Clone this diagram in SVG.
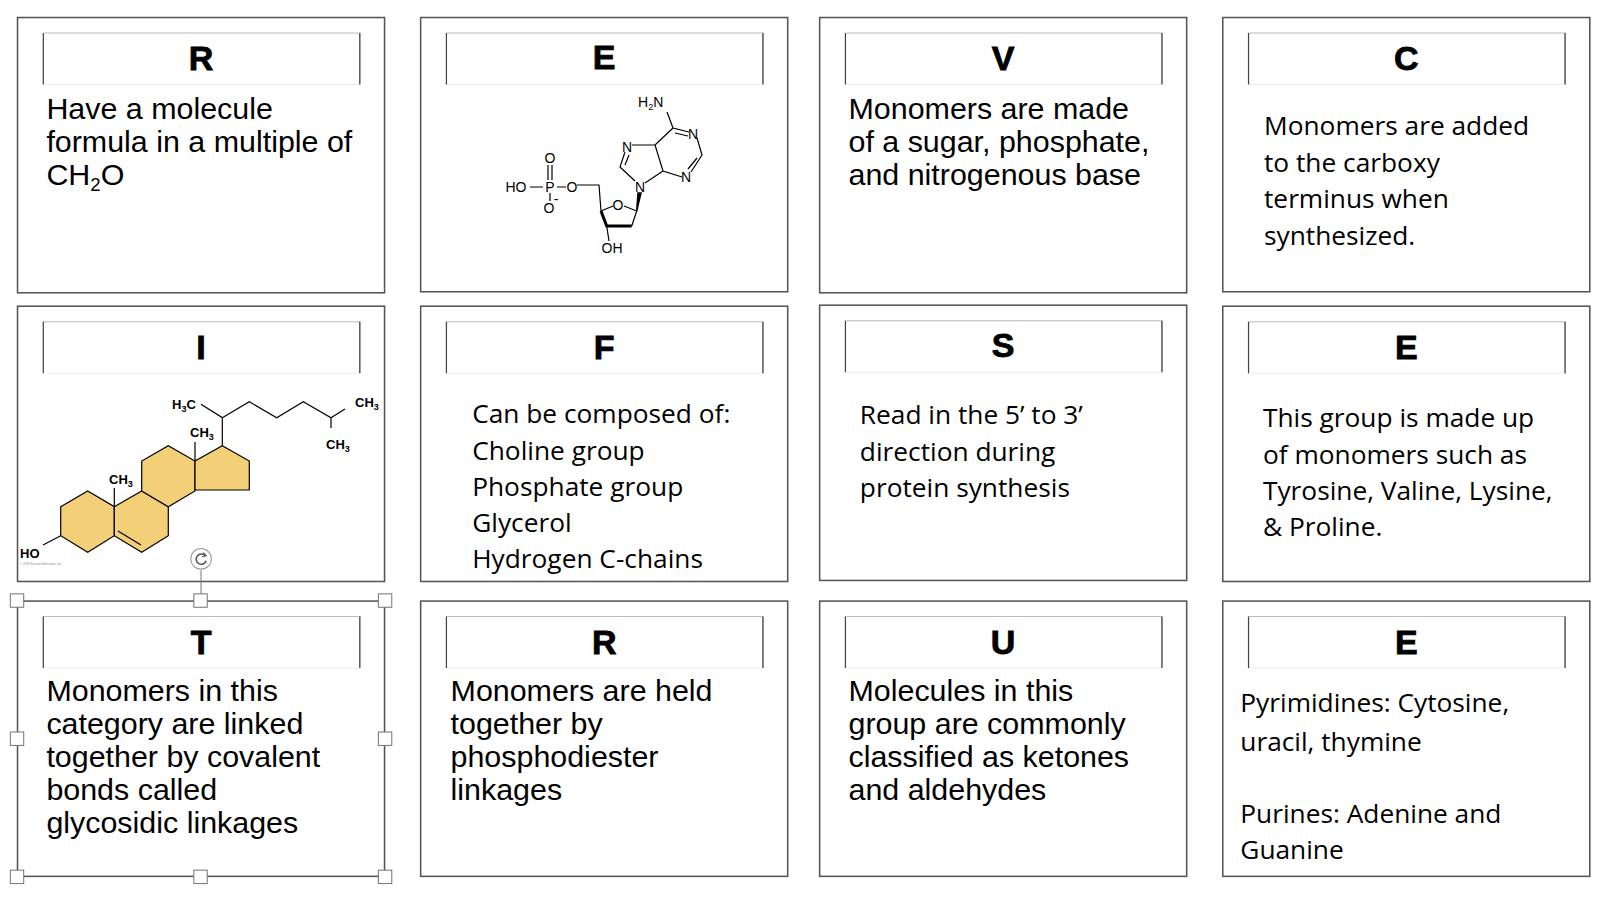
<svg xmlns="http://www.w3.org/2000/svg" width="1616" height="900" viewBox="0 0 1616 900">
<defs>
<g id="hdr"><path d="M0 0H307V50" fill="none" stroke="#bbb" stroke-width="1"/><path d="M0 50H307" stroke="#eee" stroke-width="1"/><path d="M0 0V50M307 0V50" stroke="#444" stroke-width="1.2"/></g>
</defs>
<style>
.card{fill:#fff;stroke:#555;stroke-width:1.5}
.lt{font-family:"Liberation Sans",Arial,sans-serif;font-weight:bold;font-size:33px;text-anchor:middle;fill:#000;stroke:#000;stroke-width:0.8}
.a{font-family:"Liberation Sans",Arial,sans-serif;font-size:29.5px;fill:#000}
.o{font-family:"Open Sans",sans-serif;font-size:25.5px;fill:#000}
.ch{font-family:"Liberation Sans",Arial,sans-serif;font-size:14px;fill:#000;text-anchor:middle}
.cb{font-family:"Liberation Sans",Arial,sans-serif;font-size:13px;font-weight:bold;fill:#000}
.bd{fill:none;stroke:#000;stroke-width:1.2}
.sel{fill:#fff;stroke:#777;stroke-width:1}
</style>
<rect width="1616" height="900" fill="#fff"/>
<g transform="scale(1.031)">
<g id="card-R1"><rect class="card" x="17" y="17" width="356" height="267"/><use href="#hdr" x="42" y="32"/><text class="lt" x="195" y="68">R</text>
<text class="a"><tspan x="45" y="115">Have a molecule</tspan><tspan x="45" y="147">formula in a multiple of</tspan><tspan x="45" y="179">CH</tspan><tspan font-size="18" dy="6">2</tspan><tspan dy="-6">O</tspan></text></g>
<g id="card-E1"><rect class="card" x="408" y="17" width="356" height="266"/><use href="#hdr" x="433" y="32"/><text class="lt" x="586" y="67">E</text></g>
<g id="card-V"><rect class="card" x="795" y="17" width="356" height="267"/><use href="#hdr" x="820" y="32"/><text class="lt" x="973" y="68">V</text>
<text class="a"><tspan x="823" y="115">Monomers are made</tspan><tspan x="823" y="147">of a sugar, phosphate,</tspan><tspan x="823" y="179">and nitrogenous base</tspan></text></g>
<g id="card-C"><rect class="card" x="1186" y="17" width="356" height="266"/><use href="#hdr" x="1211" y="32"/><text class="lt" x="1364" y="68">C</text>
<text class="o"><tspan x="1226" y="131">Monomers are added</tspan><tspan x="1226" y="167">to the carboxy</tspan><tspan x="1226" y="202">terminus when</tspan><tspan x="1226" y="238">synthesized.</tspan></text></g>
<g id="card-I"><rect class="card" x="17" y="297" width="356" height="267"/><use href="#hdr" x="42" y="312"/><text class="lt" x="195" y="348">I</text></g>
<g id="card-F"><rect class="card" x="408" y="297" width="356" height="267"/><use href="#hdr" x="433" y="312"/><text class="lt" x="586" y="348">F</text>
<text class="o"><tspan x="458" y="410">Can be composed of:</tspan><tspan x="458" y="446">Choline group</tspan><tspan x="458" y="481">Phosphate group</tspan><tspan x="458" y="516">Glycerol</tspan><tspan x="458" y="551">Hydrogen C-chains</tspan></text></g>
<g id="card-S"><rect class="card" x="795" y="296" width="356" height="267"/><use href="#hdr" x="820" y="311"/><text class="lt" x="973" y="346">S</text>
<text class="o"><tspan x="834" y="411">Read in the 5’ to 3’</tspan><tspan x="834" y="447">direction during</tspan><tspan x="834" y="482">protein synthesis</tspan></text></g>
<g id="card-E2"><rect class="card" x="1186" y="297" width="356" height="267"/><use href="#hdr" x="1211" y="312"/><text class="lt" x="1364" y="348">E</text>
<text class="o"><tspan x="1225" y="414">This group is made up</tspan><tspan x="1225" y="450">of monomers such as</tspan><tspan x="1225" y="485">Tyrosine, Valine, Lysine,</tspan><tspan x="1225" y="520">&amp; Proline.</tspan></text></g>
<g id="card-T"><rect class="card" x="17" y="583" width="356" height="267"/><use href="#hdr" x="42" y="598"/><text class="lt" x="195" y="634">T</text>
<text class="a"><tspan x="45" y="680">Monomers in this</tspan><tspan x="45" y="712">category are linked</tspan><tspan x="45" y="744">together by covalent</tspan><tspan x="45" y="776">bonds called</tspan><tspan x="45" y="808">glycosidic linkages</tspan></text>
<g id="selection"><path d="M195 553V583" stroke="#777" fill="none"/><circle cx="195" cy="542" r="10" fill="#fff" stroke="#999"/><path d="M199 539A5 5 0 1 0 200 544" fill="none" stroke="#555" stroke-width="1.5"/><path d="M197 536L200 539L196 540" fill="none" stroke="#555" stroke-width="1.2"/>
<rect class="sel" x="10" y="576" width="13" height="13"/><rect class="sel" x="188" y="576" width="13" height="13"/><rect class="sel" x="367" y="576" width="13" height="13"/><rect class="sel" x="10" y="710" width="13" height="13"/><rect class="sel" x="367" y="710" width="13" height="13"/><rect class="sel" x="10" y="844" width="13" height="13"/><rect class="sel" x="188" y="844" width="13" height="13"/><rect class="sel" x="367" y="844" width="13" height="13"/></g></g>
<g id="card-R2"><rect class="card" x="408" y="583" width="356" height="267"/><use href="#hdr" x="433" y="598"/><text class="lt" x="586" y="634">R</text>
<text class="a"><tspan x="437" y="680">Monomers are held</tspan><tspan x="437" y="712">together by</tspan><tspan x="437" y="744">phosphodiester</tspan><tspan x="437" y="776">linkages</tspan></text></g>
<g id="card-U"><rect class="card" x="795" y="583" width="356" height="267"/><use href="#hdr" x="820" y="598"/><text class="lt" x="973" y="634">U</text>
<text class="a"><tspan x="823" y="680">Molecules in this</tspan><tspan x="823" y="712">group are commonly</tspan><tspan x="823" y="744">classified as ketones</tspan><tspan x="823" y="776">and aldehydes</tspan></text></g>
<g id="card-E3"><rect class="card" x="1186" y="583" width="356" height="267"/><use href="#hdr" x="1211" y="598"/><text class="lt" x="1364" y="634">E</text>
<text class="o"><tspan x="1203" y="691">Pyrimidines: Cytosine,</tspan><tspan x="1203" y="728">uracil, thymine</tspan><tspan x="1203" y="798">Purines: Adenine and</tspan><tspan x="1203" y="833">Guanine</tspan></text></g>
</g>
<g id="adenosine">
<g class="bd">
<path d="M530 187H543M557 187H566M577 185H599L601 211"/>
<path d="M548 165V180M552 165V180M550 193V201"/>
<path d="M601 211L613 206M624 206L636.7 211L631.7 226"/>
<path d="M606.7 226L609 241"/>
<path d="M667 112L673 128L689 132M675 133L688 136M697 138L702 155L691 172M697 158L688 169M682 177L663 171L655 145L673 128M655 145L632 145M625 152L620 167L635 181M629 155L625 165M645 183L663 171"/>
</g>
<path d="M601 211L606.7 226H631.7" fill="none" stroke="#000" stroke-width="3"/>
<path d="M636.7 211L638 193L641 193Z" fill="#000" stroke="#000" stroke-width="1.5"/>
<text class="ch" x="516" y="192">HO</text><text class="ch" x="550" y="192">P</text><text class="ch" x="550" y="163">O</text><text class="ch" x="549" y="213">O</text><text class="ch" x="556" y="204" font-size="10">-</text><text class="ch" x="572" y="192">O</text><text class="ch" x="618" y="210">O</text><text class="ch" x="640" y="192">N</text><text class="ch" x="627" y="152">N</text><text class="ch" x="693" y="139">N</text><text class="ch" x="686" y="182">N</text>
<text x="638" y="107" font-family="Liberation Sans,Arial,sans-serif" font-size="14">H<tspan font-size="9" dy="3">2</tspan><tspan dy="-3">N</tspan></text><text class="ch" x="612" y="253">OH</text>
</g>
<g id="cholesterol">
<g fill="#f3cf78" stroke="#000" stroke-width="1.2"><path d="M60.7 506.7L87.7 491L114.3 506.7V535.7L87.7 552.3L60.7 535.7Z"/><path d="M114.3 506.7L141.7 491L168.3 506.7V535.7L141.7 552.3L114.3 535.7Z"/><path d="M141.7 491V461L168.3 445.7L195 461V491L168.3 506.7Z"/><path d="M195 461L222.3 445.7L249.3 461V490H195Z"/></g>
<g class="bd"><path d="M222.3 445.7V417.7L201 404.3M222.3 417.7L249.3 401.7L276.7 417.7L303.3 401.7L331 417.7L345 409M331 417.7V428M195 461V442M114.3 506.7V488M60.7 535.7L43 545M118 531L141 545"/></g>
<text class="cb" x="172" y="409">H<tspan font-size="9" dy="3">3</tspan><tspan dy="-3">C</tspan></text><text class="cb" x="355" y="407">CH<tspan font-size="9" dy="3">3</tspan></text><text class="cb" x="326" y="449">CH<tspan font-size="9" dy="3">3</tspan></text><text class="cb" x="190" y="437">CH<tspan font-size="9" dy="3">3</tspan></text><text class="cb" x="109" y="484">CH<tspan font-size="9" dy="3">3</tspan></text><text class="cb" x="20" y="558">HO</text>
<text x="20" y="565" font-family="Liberation Sans,sans-serif" font-size="3" fill="#888">© 2011 Pearson Education, Inc.</text>
</g>
<g id="connectors"></g>
</svg>
